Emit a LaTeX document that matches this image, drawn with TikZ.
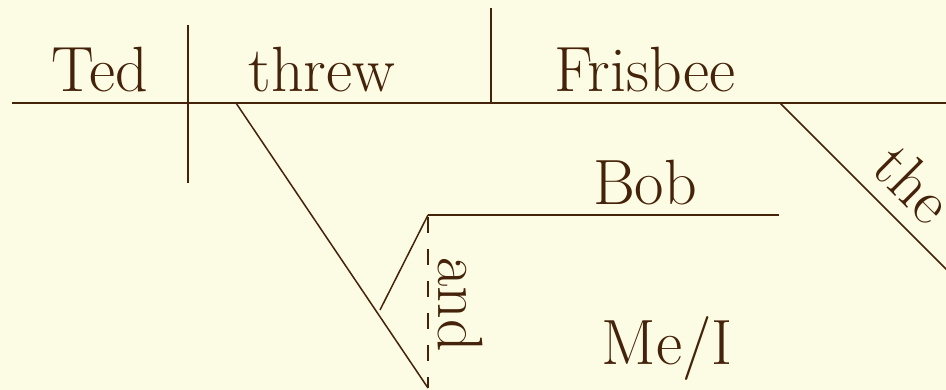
\documentclass[tikz,border=0pt]{standalone}
\usepackage{tikz}
\usetikzlibrary{calc}
\definecolor{paper}{HTML}{FCFBE3}
\definecolor{ink}{HTML}{45220A}

\begin{document}
\begin{tikzpicture}[x=1pt,y=-1pt,
    word/.style={anchor=base,inner sep=0pt,text=ink,font=\fontsize{64}{70}\selectfont},
    rule/.style={draw=ink,line width=2pt},
    slant/.style={draw=ink,line width=1.5pt}]
    \fill[paper] (0,0) rectangle (946,390);
    \useasboundingbox (0,0) rectangle (946,390);
    \begin{scope}
    \clip (0,0) rectangle (946,390);
    % main line
    \coordinate (L)  at ( 12,103);
    \coordinate (R)  at (946,103);
    \coordinate (S1) at (188, 25);
    \coordinate (S2) at (188,183);
    \coordinate (O1) at (491,  8);
    \coordinate (O2) at (491,103);
    \coordinate (V)  at (236,103);
    \coordinate (F)  at (780,103);
    \coordinate (FE) at (960,283);
    % indirect object fork
    \coordinate (J)  at (380,310);
    \coordinate (B1) at (428,215);
    \coordinate (B2) at (779,215);
    \coordinate (M1) at (428,388);
    \draw[rule] (L) -- (R);
    \draw[rule] (S1) -- (S2);
    \draw[rule] (O1) -- (O2);
    \draw[slant] (F) -- (FE);
    \draw[slant] (V) -- (M1);
    \draw[slant] (J) -- (B1);
    \draw[rule] (B1) -- (B2);
    \draw[ink,line width=1.5pt,dash pattern=on 16pt off 16pt,dash phase=-2pt] (B1) -- (M1);
    % words
    \node[word] (ted) at (100,92) {Ted};
    \node[word] (threw) at (322,92) {threw};
    \node[word] (frisbee) at (645,92) {Frisbee};
    \node[word,rotate=-45] (the) at (898,199) {the};
    \node[word] (bob) at (645,205) {Bob};
    \node[word,rotate=-90] (and) at (438,305) {and};
    \node[word] (me) at (667,365) {Me/I};
    \end{scope}
\end{tikzpicture}
\end{document}
